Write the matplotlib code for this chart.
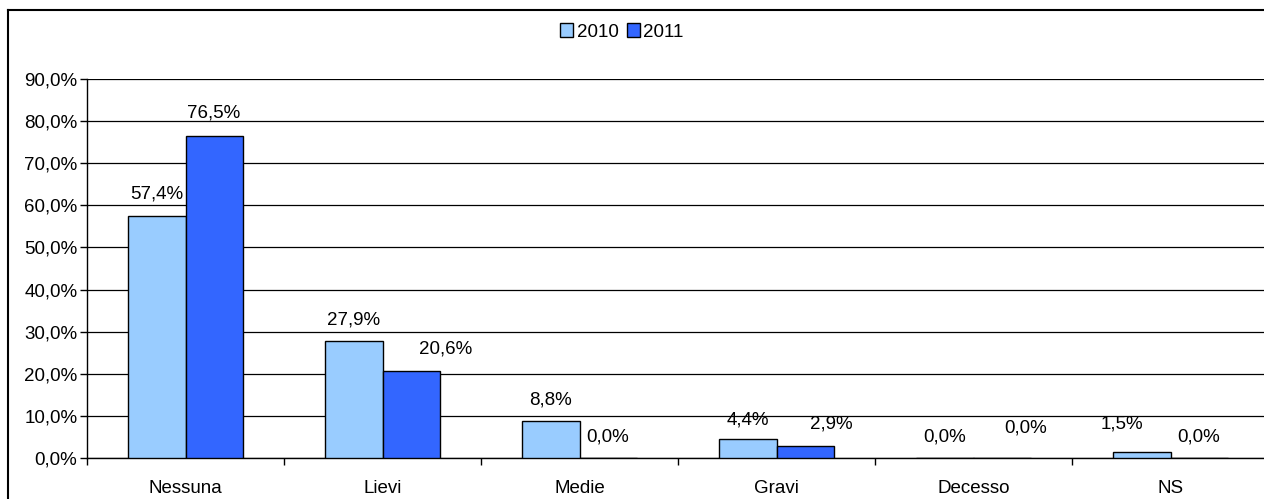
import matplotlib
matplotlib.use("Agg")
import matplotlib.pyplot as plt
from matplotlib.lines import Line2D
from matplotlib.patches import Patch
import numpy as np

plt.rcParams['font.family'] = ['Liberation Sans', 'DejaVu Sans']

categories = ["Nessuna", "Lievi", "Medie", "Gravi", "Decesso", "NS"]
series_names = ["2010", "2011"]
values_2010 = [57.4, 27.9, 8.8, 4.4, 0.0, 1.5]
values_2011 = [76.5, 20.6, 0.0, 2.9, 0.0, 0.0]
colors = ["#99CCFF", "#3366FF"]

# per-label nudges (pixels) so the value labels sit where they were placed by hand
label_nudges = [
    [(0, 23), (0, 22), (0, 22), (0, 20), (0, 22), (-20, 29)],
    [(0, 24), (35, 23), (0, 22), (26, 23), (24, 31), (0, 22)],
]

W, H = 1264, 499
fig = plt.figure(figsize=(W / 100, H / 100), dpi=100)

# outer chart frame (left and top edges visible)
fig.add_artist(Line2D([8 / W, 8 / W], [0, 1 - 10 / H], transform=fig.transFigure,
                      color="black", lw=1.5))
fig.add_artist(Line2D([8 / W, 1], [1 - 10 / H, 1 - 10 / H], transform=fig.transFigure,
                      color="black", lw=1.5))

left, right = 87 / W, 1269 / W
bottom, top = 1 - 458 / H, 1 - 79 / H
ax = fig.add_axes([left, bottom, right - left, top - bottom])

x = np.arange(len(categories))
bw = 0.29
fs = 13.5
for i, (vals, col) in enumerate(zip([values_2010, values_2011], colors)):
    pos = x + (i - 0.5) * bw
    ax.bar(pos, vals, width=bw, color=col, edgecolor="black", linewidth=1.0, zorder=3)
    for p, v, (dx, dy) in zip(pos, vals, label_nudges[i]):
        ax.annotate(f"{v:.1f}%".replace(".", ","), (p, v), xytext=(dx, dy - 1),
                    textcoords="offset pixels", ha="center", va="center",
                    fontsize=fs, zorder=4)

ax.set_xlim(-0.5, len(categories) - 0.5)
ax.set_ylim(0, 90)
yt = np.arange(0, 91, 10)
ax.set_yticks(yt)
ax.set_yticklabels([f"{v:.1f}%".replace(".", ",") for v in yt], fontsize=fs)
ax.yaxis.grid(True, color="black", lw=0.9, zorder=0)
ax.set_axisbelow(True)

ax.set_xticks(x)
ax.set_xticklabels(categories, fontsize=fs)
ax.tick_params(axis="x", length=0, pad=16)
ax.set_xticks(np.arange(-0.5, len(categories) + 0.5), minor=True)
ax.tick_params(axis="x", which="minor", length=5, width=1, color="black", direction="out")
ax.tick_params(axis="y", length=5, width=1, color="black", direction="out", pad=2)

for s in ["top", "right"]:
    ax.spines[s].set_visible(False)
for s in ["left", "bottom"]:
    ax.spines[s].set_color("black")
    ax.spines[s].set_linewidth(1.0)

handles = [Patch(facecolor=c, edgecolor="black", label=n) for c, n in zip(colors, series_names)]
fig.legend(handles=handles, loc="center", bbox_to_anchor=(622 / W, 1 - 32 / H),
           ncol=2, frameon=False, fontsize=fs, handlelength=0.7, handleheight=0.7,
           handletextpad=0.2, columnspacing=0.4, borderaxespad=0)

fig.savefig("out.png", dpi=100)
